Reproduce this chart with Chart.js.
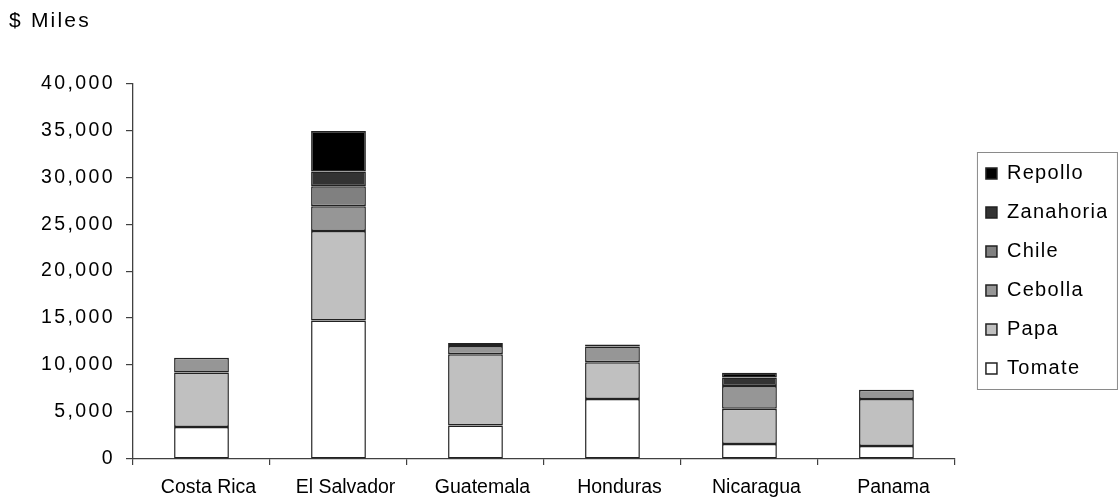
<!DOCTYPE html>
<html>
<head>
<meta charset="utf-8">
<script src="https://cdn.jsdelivr.net/npm/chart.js@4/dist/chart.umd.min.js"></script>
<style>
  html, body { margin: 0; padding: 0; background: #ffffff; }
  canvas { display: block; }
</style>
</head>
<body>
<canvas id="chart" width="1119" height="501"></canvas>
<script>
// Países
const paises = ['Costa Rica', 'El Salvador', 'Guatemala', 'Honduras', 'Nicaragua', 'Panama'];

// Valor por cultivo ($ miles)
const tomate    = [3400, 14730, 3570, 6380, 1590, 1380];
const papa      = [5800, 9530, 7590, 3930, 3760, 5000];
const cebolla   = [1570, 2630, 880, 1660, 2410, 990];
const chile     = [null, 2150, null, null, null, null];
const zanahoria = [null, 1560, null, null, 910, null];
const repollo   = [null, 4320, 300, 210, 500, null];

// Marcas del eje de valores
const yTicks = [0, 5000, 10000, 15000, 20000, 25000, 30000, 35000, 40000];

const FONT = 'Liberation Sans, Arial, sans-serif';
const AXIS = '#404040';

const series = [
  { label: 'Tomate',    data: tomate,    fill: '#ffffff' },
  { label: 'Papa',      data: papa,      fill: '#c0c0c0' },
  { label: 'Cebolla',   data: cebolla,   fill: '#969696' },
  { label: 'Chile',     data: chile,     fill: '#808080' },
  { label: 'Zanahoria', data: zanahoria, fill: '#333333' },
  { label: 'Repollo',   data: repollo,   fill: '#000000' }
];

// Wider tracking for a few text blocks
function widen(obj, method, spacing) {
  if (!obj || obj['_tracked_' + method]) return;
  const orig = obj[method];
  obj[method] = function (...args) {
    const ctx = this.ctx;
    ctx.save();
    ctx.letterSpacing = spacing;
    const r = orig.apply(this, args);
    ctx.restore();
    return r;
  };
  obj['_tracked_' + method] = true;
}

const tracking = {
  id: 'tracking',
  afterLayout(chart) {
    widen(chart.scales.y, 'drawLabels', '2.4px');
    widen(chart.legend, 'draw', '1.3px');
    widen(chart.titleBlock, 'draw', '2.2px');
  }
};

// Frame around the legend entries
const legendFrame = {
  id: 'legendFrame',
  afterDraw(chart) {
    const lg = chart.legend;
    if (!lg) return;
    const lab = lg.options.labels;
    const pad = lab.padding;
    const itemH = Math.max(lab.font.size, lab.boxHeight);
    const n = lg.legendItems.length;
    const colH = n * (itemH + pad);
    const itemsTop = (lg.top + pad + lg.bottom - colH) / 2;
    const x0 = lg.left + 10.5;
    const y0 = Math.round(itemsTop - 11.5) + 0.5;
    const y1 = Math.round(itemsTop + colH - pad + 10) + 0.5;
    const ctx = chart.ctx;
    ctx.save();
    ctx.strokeStyle = '#8a8a8a';
    ctx.lineWidth = 1;
    ctx.strokeRect(x0, y0, 140, y1 - y0);
    ctx.restore();
  }
};

const chart = new Chart(document.getElementById('chart'), {
  type: 'bar',
  data: {
    labels: paises,
    datasets: series.map(s => ({
      label: s.label,
      data: s.data,
      backgroundColor: s.fill,
      borderColor: '#222222',
      borderWidth: 1.5,
      borderSkipped: false,
      categoryPercentage: 0.4,
      barPercentage: 1.0
    }))
  },
  options: {
    responsive: false,
    animation: false,
    events: [],
    layout: { padding: { left: 9, right: 12, top: 0, bottom: 0 } },
    scales: {
      x: {
        stacked: true,
        grid: { display: true, offset: true, drawOnChartArea: false, drawTicks: true, tickLength: 6, color: AXIS, tickColor: AXIS, lineWidth: 1.2 },
        border: { display: true, color: AXIS, width: 1.3 },
        ticks: { color: '#000000', font: { family: FONT, size: 19.5 }, padding: 11, labelOffset: 7, maxRotation: 0, autoSkip: false },
        afterFit(s) { s.height = 42; }
      },
      y: {
        stacked: true,
        min: 0,
        max: 40000,
        afterBuildTicks(s) { s.ticks = yTicks.map(v => ({ value: v })); },
        grid: { display: true, drawOnChartArea: false, drawTicks: true, tickLength: 7, color: AXIS, tickColor: AXIS, lineWidth: 1.2 },
        border: { display: true, color: AXIS, width: 1.3 },
        ticks: {
          color: '#000000',
          font: { family: FONT, size: 19.5 },
          padding: 11,
          callback: v => Number(v).toLocaleString('en-US')
        },
        afterFit(s) { s.width = 124; }
      },
      y2: {
        type: 'linear',
        position: 'right',
        display: true,
        grid: { display: false },
        border: { display: false },
        ticks: { display: false },
        afterFit(s) { s.width = 12; }
      }
    },
    plugins: {
      title: {
        display: true,
        text: '$ Miles',
        align: 'start',
        color: '#000000',
        font: { family: FONT, size: 21, weight: 'normal' },
        padding: { top: 9, bottom: 49 }
      },
      legend: {
        display: true,
        position: 'right',
        align: 'center',
        fullSize: false,
        reverse: true,
        labels: {
          color: '#000000',
          font: { family: FONT, size: 20 },
          boxWidth: 11,
          boxHeight: 11,
          padding: 19
        }
      },
      tooltip: { enabled: false }
    }
  },
  plugins: [tracking, legendFrame]
});

// Keep the plot's right edge where the legend frame leaves room for it
const dx = chart.chartArea.right - 955;
if (Math.abs(dx) > 0.5) {
  chart.options.layout.padding.right += dx;
  chart.update();
}
</script>
</body>
</html>
